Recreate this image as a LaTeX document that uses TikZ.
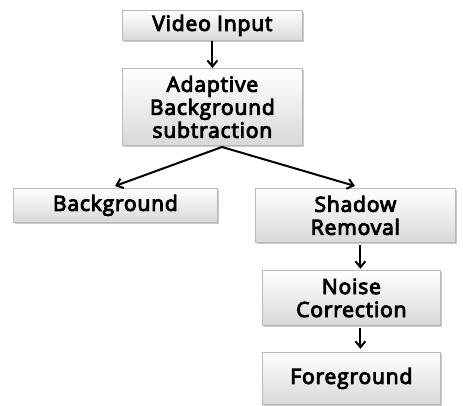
\documentclass[tikz,border=0pt]{standalone}
\usepackage{fontspec}
\setmainfont{Open Sans}[AutoFakeBold=4.5,LetterSpace=4]
\usetikzlibrary{shadows,arrows.meta}
\begin{document}
\begin{tikzpicture}[x=1pt,y=-1pt,
  box/.style={draw=gray!55, line width=0.8pt, top color=white, bottom color=gray!30,
    drop shadow={shadow xshift=2pt,shadow yshift=-2pt,fill=gray!70,opacity=0.6},
    align=center, font=\fontsize{21}{23}\selectfont\bfseries, inner sep=0pt, anchor=north west},
  arr/.style={-{Straight Barb[length=6pt,width=10pt]}, line width=2pt}]
\useasboundingbox (0,0) rectangle (463,406);
\node[box, minimum width=180pt, minimum height=30pt] (vi) at (122,10) {Video Input};
\node[box, minimum width=180pt, minimum height=77pt] (ab) at (122,68) {Adaptive\\Background\\subtraction};
\node[box, minimum width=204pt, minimum height=34pt] (bg) at (13,188) {Background};
\node[box, minimum width=200pt, minimum height=54pt] (sr) at (255,188) {Shadow\\Removal};
\node[box, minimum width=178pt, minimum height=55pt] (nc) at (262,270) {Noise\\Correction};
\node[box, minimum width=178pt, minimum height=52pt] (fg) at (262,352) {Foreground};
\coordinate (abb) at (222,147);
\draw[arr] (vi.south) -- (ab.north);
\draw[arr] (abb) -- (115,186);
\draw[arr] (abb) -- (355,186);
\draw[arr] (sr.south -| nc.north) ++(9,2) -- ++(0,24);
\draw[arr] (nc.south) ++(9,2) -- ++(0,21);
\end{tikzpicture}
\end{document}
